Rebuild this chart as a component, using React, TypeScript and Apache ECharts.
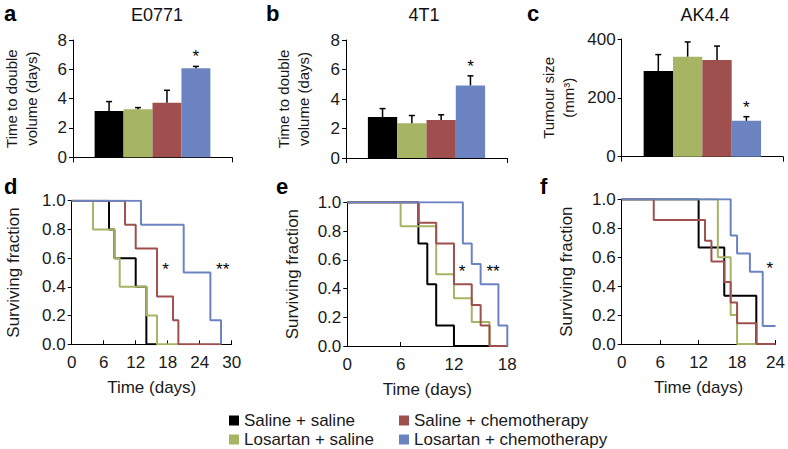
import React, { useEffect, useRef } from 'react';
import * as echarts from 'echarts';

const FONT = '"Liberation Sans", Arial, Helvetica, sans-serif';

// ---------- data ----------
const groups = ['Saline + saline', 'Losartan + saline', 'Saline + chemotherapy', 'Losartan + chemotherapy'];
const groupColors = ['#000000', '#a5b564', '#9e4f4e', '#6b84c1'];
const barSignificance = ['', '', '', '*'];

const panelTitles = ['E0771', '4T1', 'AK4.4'];
const panelLetters = ['a', 'b', 'c', 'd', 'e', 'f'];

const e0771Mean = [3.15, 3.27, 3.72, 6.07];
const e0771Err = [0.65, 0.12, 0.85, 0.13];
const t41Mean = [2.78, 2.35, 2.58, 4.92];
const t41Err = [0.57, 0.53, 0.35, 0.65];
const ak44Mean = [291, 340, 329, 122];
const ak44Err = [56, 50, 47, 14];

// Kaplan-Meier curves: [day, surviving fraction]
const dBlack = [[0, 1], [7, 0.8], [8, 0.6], [12, 0.4], [14, 0], [16, 0]];
const dGreen = [[0, 1], [4, 0.8], [8, 0.6], [9, 0.4], [14, 0.2], [16, 0], [20, 0]];
const dRed = [[0, 1], [10, 0.833], [12, 0.667], [16, 0.333], [19, 0.167], [20, 0], [28, 0]];
const dBlue = [[0, 1], [13, 0.833], [21, 0.5], [26, 0.167], [28, 0]];

const eBlack = [[0, 1], [8, 0.714], [9, 0.429], [10, 0.143], [12, 0], [16, 0]];
const eGreen = [[0, 1], [6, 0.833], [10, 0.5], [12, 0.333], [14, 0.167], [16, 0]];
const eRed = [[0, 1], [8, 0.857], [10, 0.714], [12, 0.429], [14, 0.286], [15, 0.143], [16, 0], [18, 0]];
const eBlue = [[0, 1], [13, 0.714], [14, 0.571], [15, 0.429], [17, 0.143], [18, 0]];

const fBlack = [[0, 1], [12, 0.667], [16, 0.333], [21, 0]];
const fGreen = [[0, 1], [15, 0.6], [17, 0.2], [18, 0], [21, 0]];
const fRed = [[0, 1], [5, 0.857], [13, 0.714], [14, 0.571], [16, 0.429], [17, 0.286], [18, 0.143], [21, 0], [24, 0]];
const fBlue = [[0, 1], [17, 0.75], [18, 0.625], [20, 0.5], [22, 0.125], [24, 0.125]];

const dStars = [[17.6, 0.52, '*'], [28.3, 0.52, '**']];
const eStars = [[12.9, 0.52, '*'], [16.4, 0.52, '**']];
const fStars = [[23.1, 0.52, '*']];

const survMax = [30, 18, 24];
const barYMax = [8, 8, 400];
const barYInterval = [2, 2, 200];
const barYNames = ['Time to double\nvolume (days)', 'Time to double\nvolume (days)', 'Tumour size\n(mm\u00B3)'];

// ---------- layout ----------
const BAR_FRACTION = 0.182;
const grids = [
  { left: 72, top: 40, width: 160, height: 117.3 },
  { left: 346, top: 40, width: 161, height: 118 },
  { left: 621.7, top: 39, width: 161.3, height: 117.7 },
  { left: 71.7, top: 200.7, width: 160, height: 143.6 },
  { left: 347.3, top: 202.3, width: 160, height: 143.7 },
  { left: 621.7, top: 199.3, width: 156.6, height: 144.7 },
];
const barNameGaps = [32, 33, 43];
const survNameGaps = [50, 46, 47];
// legend slot per group: [left, top]
const legendSlots = [[229, 412], [229, 431], [399, 412], [399, 431]];

const axisLine = { show: true, lineStyle: { color: '#000', width: 1 } };
const labelStyle = { color: '#1a1a1a', fontSize: 17, fontFamily: FONT };

function buildOption() {
  const barSets = [
    [e0771Mean, e0771Err],
    [t41Mean, t41Err],
    [ak44Mean, ak44Err],
  ];
  const survSets = [
    [dBlack, dGreen, dRed, dBlue],
    [eBlack, eGreen, eRed, eBlue],
    [fBlack, fGreen, fRed, fBlue],
  ];
  const starSets = [dStars, eStars, fStars];

  const xAxis: any[] = [];
  const yAxis: any[] = [];
  const series: any[] = [];

  for (let p = 0; p < 3; p++) {
    xAxis.push({
      type: 'category',
      gridIndex: p,
      data: [panelTitles[p]],
      boundaryGap: true,
      axisLine,
      axisTick: { show: true, inside: false, length: 5, lineStyle: { color: '#000' } },
      axisLabel: { show: false },
      splitLine: { show: false },
    });
    yAxis.push({
      type: 'value',
      gridIndex: p,
      min: 0,
      max: barYMax[p],
      interval: barYInterval[p],
      axisLine,
      axisTick: { show: true, inside: false, length: 4, lineStyle: { color: '#000' } },
      axisLabel: { ...labelStyle, margin: 6 },
      splitLine: { show: false },
      name: barYNames[p],
      nameLocation: 'middle',
      nameGap: barNameGaps[p],
      nameTextStyle: { color: '#1a1a1a', fontSize: 15, lineHeight: 20, fontFamily: FONT },
    });
  }
  for (let p = 0; p < 3; p++) {
    xAxis.push({
      type: 'value',
      gridIndex: p + 3,
      min: 0,
      max: survMax[p],
      interval: 6,
      axisLine,
      axisTick: { show: true, inside: true, length: 4, lineStyle: { color: '#000' } },
      axisLabel: { ...labelStyle, margin: 10 },
      splitLine: { show: false },
      name: 'Time (days)',
      nameLocation: 'middle',
      nameGap: 35,
      nameTextStyle: { color: '#1a1a1a', fontSize: 17, fontFamily: FONT },
    });
    yAxis.push({
      type: 'value',
      gridIndex: p + 3,
      min: 0,
      max: 1,
      interval: 0.2,
      axisLine,
      axisTick: { show: true, inside: false, length: 4, lineStyle: { color: '#000' } },
      axisLabel: { ...labelStyle, margin: 6, formatter: (v: number) => v.toFixed(1) },
      splitLine: { show: false },
      name: 'Surviving fraction',
      nameLocation: 'middle',
      nameGap: survNameGaps[p],
      nameTextStyle: { color: '#1a1a1a', fontSize: 17, fontFamily: FONT },
    });
  }

  // bars
  for (let p = 0; p < 3; p++) {
    const [means] = barSets[p];
    groups.forEach((g, gi) => {
      series.push({
        type: 'bar',
        name: g,
        xAxisIndex: p,
        yAxisIndex: p,
        data: [means[gi]],
        barWidth: (BAR_FRACTION * 100).toFixed(1) + '%',
        barGap: '0%',
        itemStyle: { color: groupColors[gi] },
      });
    });
  }
  // error bars + significance
  for (let p = 0; p < 3; p++) {
    const [means, errs] = barSets[p];
    series.push({
      type: 'custom',
      name: 'err' + p,
      xAxisIndex: p,
      yAxisIndex: p,
      z: 5,
      data: means.map((m, gi) => [0, m, m + errs[gi], gi]),
      renderItem: (params: any, api: any) => {
        const gi = api.value(3);
        const base = api.coord([0, api.value(1)]);
        const top = api.coord([0, api.value(2)]);
        const band = api.size([1, 0])[0];
        const x = base[0] + (gi - 1.5) * band * BAR_FRACTION;
        const st = { stroke: '#000', lineWidth: 1.5 };
        const children: any[] = [
          { type: 'line', shape: { x1: x, y1: base[1], x2: x, y2: top[1] }, style: st },
          { type: 'line', shape: { x1: x - 3, y1: top[1], x2: x + 3, y2: top[1] }, style: st },
        ];
        const s = barSignificance[gi];
        if (s) {
          children.push({
            type: 'text',
            x,
            y: top[1] - 9.5,
            style: {
              text: s, textAlign: 'center', textVerticalAlign: 'middle', align: 'center', verticalAlign: 'middle',
              fontSize: 17, fontFamily: FONT, fill: '#000',
            },
          });
        }
        return { type: 'group', children };
      },
    });
  }
  // survival curves
  for (let p = 0; p < 3; p++) {
    survSets[p].forEach((curve, gi) => {
      series.push({
        type: 'line',
        name: groups[gi],
        xAxisIndex: p + 3,
        yAxisIndex: p + 3,
        step: 'end',
        showSymbol: false,
        symbol: 'none',
        data: curve,
        lineStyle: { color: groupColors[gi], width: 2 },
        itemStyle: { color: groupColors[gi] },
        z: 3 + gi,
      });
    });
    series.push({
      type: 'custom',
      name: 'stars' + p,
      xAxisIndex: p + 3,
      yAxisIndex: p + 3,
      z: 10,
      data: starSets[p],
      renderItem: (params: any, api: any) => {
        const pt = api.coord([api.value(0), api.value(1)]);
        const txt = starSets[p][params.dataIndex][2] as string;
        return {
          type: 'text',
          x: pt[0],
          y: pt[1],
          style: {
            text: txt, textAlign: 'center', textVerticalAlign: 'middle', align: 'center', verticalAlign: 'middle',
            fontSize: 17, fontFamily: FONT, fill: '#000',
          },
        };
      },
    });
  }

  const titleX = [157, 424, 705];
  const letterX = [4, 266, 527, 4, 276, 540];
  const letterY = [13, 13, 13, 186, 186, 186];
  const graphic: any[] = [];
  panelTitles.forEach((t, i) => {
    graphic.push({
      type: 'text',
      x: titleX[i],
      y: 14.5,
      style: { text: t, textAlign: 'center', textVerticalAlign: 'middle', fontSize: 18, fontFamily: FONT, fill: '#111' },
    });
  });
  panelLetters.forEach((l, i) => {
    graphic.push({
      type: 'text',
      x: letterX[i],
      y: letterY[i],
      style: { text: l, textAlign: 'left', textVerticalAlign: 'middle', fontSize: 22, fontWeight: 'bold', fontFamily: FONT, fill: '#000' },
    });
  });

  const legend = groups.map((g, gi) => ({
    left: legendSlots[gi][0],
    top: legendSlots[gi][1],
    itemWidth: 10,
    itemHeight: 10,
    icon: 'rect',
    selectedMode: false,
    padding: 0,
    data: [g],
    itemStyle: { color: groupColors[gi], borderWidth: 0 },
    textStyle: { color: '#1a1a1a', fontSize: 17, fontFamily: FONT },
  }));

  return {
    animation: false,
    backgroundColor: '#ffffff',
    grid: grids.map((g) => ({ ...g, containLabel: false })),
    xAxis,
    yAxis,
    series,
    graphic,
    legend,
  };
}

export default function App() {
  const ref = useRef<HTMLDivElement>(null);
  useEffect(() => {
    if (!ref.current) return;
    const chart = echarts.init(ref.current, undefined, { renderer: 'svg' });
    chart.setOption(buildOption() as any);
    return () => chart.dispose();
  }, []);
  return (
    <div
      ref={ref}
      style={{ position: 'fixed', left: 0, top: 0, width: 788, height: 449, background: '#fff' }}
    />
  );
}
